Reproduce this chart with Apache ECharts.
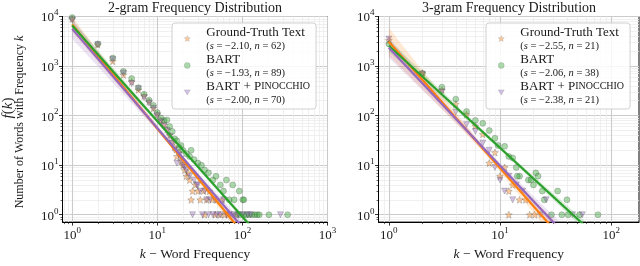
<!DOCTYPE html>
<html><head><meta charset="utf-8">
<script src="https://cdn.jsdelivr.net/npm/echarts@6/dist/echarts.min.js"></script>
<style>html,body{margin:0;padding:0;background:#fff}#c{width:640px;height:266px}</style>
</head><body><div id="c"></div>
<script>
// ---------- DATA ----------
const seriesNames = ['Ground-Truth Text', 'BART', 'BART + Pinocchio'];
const titles = ['2-gram Frequency Distribution', '3-gram Frequency Distribution'];

// 2-gram: [k, f(k)]
const gt2 = [[1,9000],[2,2700],[3,1250],[4,660],[5,480],[6,330],[7,250],[8,190],[9,140],[10,105],[11,80],[12,65],[13,52],[14,40],[15,30],[16,23],[17,15],[18,18],[19,12],[20,10],[21,8],[22,6],[23,7],[24,5],[25,2],[26,3],[28,4],[30,3],[32,2],[35,3],[36,1],[38,2],[41,3],[44,2],[48,1],[50,2],[55,1],[58,2],[62,1],[68,1],[75,1],[85,1]];
const bart2 = [[1,9500],[2,2800],[3,1450],[4,780],[5,560],[6,365],[7,270],[8,205],[9,160],[10,115],[11,90],[12,80],[13,82],[14,60],[15,48],[16,34],[17,31],[18,23],[19,25],[20,20],[22,17],[24,15],[25,20],[27,13],[30,11],[33,10],[36,8],[40,7],[45,5],[49,6],[55,4],[60,3],[65,5],[70,2],[77,4],[80,2],[92,3],[101,2],[104,2],[85,1],[95,1],[104,1],[112,1],[120,1],[130,1],[140,1],[150,1],[158,1],[205,1],[340,1]];
const pin2 = [[1,8500],[2,2700],[3,1350],[4,720],[5,443],[6,350],[7,230],[8,180],[9,140],[10,100],[11,75],[12,62],[13,50],[14,38],[15,28],[16,20],[17,11],[18,16],[19,13],[20,10],[21,9],[22,8],[24,6],[26,1],[27,5],[29,4],[30,4],[32,3],[34,1],[36,3],[38,2],[40,1],[42,2],[45,1],[48,2],[50,1],[55,1],[60,2],[65,1],[70,1],[80,1],[90,1],[100,1],[115,1],[125,1],[280,1]];

// 3-gram: [k, f(k)]
const gt3 = [[1,3300],[2,720],[3,330],[4,170],[5,105],[6,62],[7,42],[8,11],[9,18],[10,6],[11,9],[12,3],[13,4],[15,2],[12,1],[18.5,1],[20.5,1],[17,2]];
const bart3 = [[1,2800],[2,710],[3,375],[4,215],[5,121],[6,80],[7,70],[8,50],[9,35],[9.6,25],[11,24],[12,15],[13,14],[14,9],[15,6],[14.3,6],[18,5],[19,5],[20,4],[21,7],[22,6],[24,3],[25,2],[29,1],[33,3],[36,1],[40,2],[41,1],[52,1],[76,1]];
const pin3 = [[1,3500],[2,690],[3,300],[4,118],[5,66],[6,48],[7,28],[8,20],[9,9],[10,5],[11,3],[12,6],[13,2],[14,4],[16,3],[23,1],[26,2],[45,1],[55,1]];

// fitted power laws: log10 f = intercept + s * log10 k
const slopes2 = [-2.10, -1.93, -2.00];
const intercepts2 = [3.84, 3.82, 3.75];
const counts2 = [62, 89, 70];
const slopes3 = [-2.55, -2.06, -2.38];
const intercepts3 = [3.49, 3.41, 3.37];
const counts3 = [21, 38, 21];
// confidence band params (log10 units): [centre log k, half-width at centre, half-width at k=1]
const bands2 = [[1.2,0.04,0.15],[1.4,0.03,0.10],[1.3,0.04,0.20]];
const bands3 = [[0.9,0.06,0.28],[1.0,0.04,0.12],[0.9,0.05,0.20]];

const xTicks2 = [1, 10, 100, 1000];
const xTicks3 = [1, 10, 100];
const yTicks = [1, 10, 100, 1000, 10000];

// ---------- STYLE / BUILD ----------
const colors = ['#ff7f0e', '#2ca02c', '#9467bd'];
const fills = ['rgba(255,127,14,0.5)', 'rgba(44,160,44,0.5)', 'rgba(148,103,189,0.5)'];
const STAR = 'path://M50,0 L63,32 L98,35 L71,57 L80,92 L50,73 L20,92 L29,57 L2,35 L37,32 Z';
const TRI_DOWN = 'path://M0,0 L100,0 L50,87 Z';
const symbols = [STAR, 'circle', TRI_DOWN];
const SERIF = '"Liberation Serif", "DejaVu Serif", serif';
const TXT = '#1a1a1a';

const xRange = [[0.77, 1000], [0.807, 178]];
const yRange = [0.71, 10000];

function minorVals(lo, hi) {
  const out = [];
  for (let e = -1; e <= 4; e++) for (let m = 2; m <= 9; m++) {
    const v = +(m * Math.pow(10, e)).toPrecision(6);
    if (v > lo && v < hi) out.push(v);
  }
  return out;
}
const supRich = {
  b: { fontFamily: SERIF, fontSize: 13, color: TXT, lineHeight: 16, verticalAlign: 'bottom' },
  s: { fontFamily: SERIF, fontSize: 9, color: TXT, verticalAlign: 'top' }
};
function supFmt(v) { return '{b|10}{s|' + Math.round(Math.log10(v)) + '}'; }

const grids = [
  { left: 62.5, right: 312.5, top: 16.5, bottom: 37.5 },
  { left: 378.5, right: 1, top: 16.5, bottom: 37.5 }
];
grids.forEach(g => { g.show = true; g.borderColor = '#000'; g.borderWidth = 1; g.backgroundColor = 'transparent'; g.containLabel = false; });

const xAxes = [], yAxes = [];
[xTicks2, xTicks3].forEach((ticks, gi) => {
  const [lo, hi] = xRange[gi];
  xAxes.push({
    type: 'log', logBase: 10, gridIndex: gi, min: lo, max: hi, position: 'bottom',
    axisLine: { show: true, onZero: false, lineStyle: { color: '#000', width: 1 } },
    axisTick: { show: true, length: 3.5, customValues: ticks, lineStyle: { color: '#000', width: 0.8 } },
    axisLabel: { show: true, customValues: ticks, formatter: supFmt, rich: supRich, margin: 4 },
    splitLine: { show: true, lineStyle: { color: '#cbcbcb', width: 1.1 } },
    minorTick: { show: false }, minorSplitLine: { show: false },
    name: '{i|k}{r| \u2212 Word Frequency}', nameLocation: 'middle', nameGap: 22,
    nameTextStyle: { rich: {
      i: { fontFamily: SERIF, fontStyle: 'italic', fontSize: 13.5, color: TXT },
      r: { fontFamily: SERIF, fontSize: 13.5, color: TXT } } }
  });
  xAxes.push({
    type: 'log', logBase: 10, gridIndex: gi, min: lo, max: hi, position: 'bottom',
    axisLine: { show: false, onZero: false },
    axisTick: { show: true, length: 2, customValues: minorVals(lo, hi), lineStyle: { color: '#000', width: 0.6 } },
    axisLabel: { show: false },
    splitLine: { show: true, lineStyle: { color: '#ececec', width: 0.8 } },
    minorTick: { show: false }, minorSplitLine: { show: false }
  });
  yAxes.push({
    type: 'log', logBase: 10, gridIndex: gi, min: yRange[0], max: yRange[1], position: 'left',
    axisLine: { show: true, onZero: false, lineStyle: { color: '#000', width: 1 } },
    axisTick: { show: true, length: 3.5, customValues: yTicks, lineStyle: { color: '#000', width: 0.8 } },
    axisLabel: { show: true, customValues: yTicks, formatter: supFmt, rich: supRich, margin: 4 },
    splitLine: { show: true, lineStyle: { color: '#cbcbcb', width: 1.1 } },
    minorTick: { show: false }, minorSplitLine: { show: false }
  });
  yAxes.push({
    type: 'log', logBase: 10, gridIndex: gi, min: yRange[0], max: yRange[1], position: 'left',
    axisLine: { show: false, onZero: false },
    axisTick: { show: true, length: 2, customValues: minorVals(yRange[0], yRange[1]), lineStyle: { color: '#000', width: 0.6 } },
    axisLabel: { show: false },
    splitLine: { show: true, lineStyle: { color: '#ececec', width: 0.8 } },
    minorTick: { show: false }, minorSplitLine: { show: false }
  });
});

function bandRenderer(a, s, band, kEnd, color) {
  const [m, w0, wE] = band;
  return function (params, api) {
    const top = [], bot = [];
    const n = 60, L = Math.log10(kEnd);
    for (let i = 0; i <= n; i++) {
      const lx = L * i / n;
      const w = Math.sqrt(w0 * w0 + (lx - m) * (lx - m) * (wE * wE - w0 * w0) / (m * m));
      top.push(api.coord([Math.pow(10, lx), Math.pow(10, a + s * lx + w)]));
      bot.unshift(api.coord([Math.pow(10, lx), Math.pow(10, a + s * lx - w)]));
    }
    return { type: 'polygon', shape: { points: top.concat(bot) }, style: { fill: color, opacity: 0.18 } };
  };
}

const series = [];
const legendNames = [[], []];
const legendMap = {};
const panels = [
  { data: [gt2, bart2, pin2], slopes: slopes2, icpt: intercepts2, counts: counts2, bands: bands2, kEnd: 1000 },
  { data: [gt3, bart3, pin3], slopes: slopes3, icpt: intercepts3, counts: counts3, bands: bands3, kEnd: 178 }
];
panels.forEach((p, gi) => {
  const xi = gi * 2, yi = gi * 2;
  p.data.forEach((d, si) => {
    const nm = 'p' + gi + '_' + si;
    legendNames[gi].push({ name: nm, icon: symbols[si], itemStyle: { color: fills[si], borderColor: 'rgba(70,70,70,0.4)', borderWidth: 0.5 } });
    const sTxt = p.slopes[si].toFixed(2).replace('-', '\u2212');
    const title = si === 2 ? '{sp|}{t|BART + P}{sc|INOCCHIO}' : '{sp|}{t|' + seriesNames[si] + '}';
    legendMap[nm] = title + '\n{sp|}{p|(}{i|s}{p| = ' + sTxt + ', }{i|n}{p| = ' + p.counts[si] + ')}';
    series.push({
      type: 'scatter', name: nm, xAxisIndex: xi, yAxisIndex: yi, data: d,
      symbol: symbols[si], symbolSize: si === 0 ? 7 : 6,
      itemStyle: { color: fills[si], borderColor: 'rgba(70,70,70,0.55)', borderWidth: 0.6 },
      clip: true, z: 2
    });
    series.push({
      type: 'custom', xAxisIndex: xi, yAxisIndex: yi, data: [[1, 1]], clip: true, silent: true, z: 3,
      renderItem: bandRenderer(p.icpt[si], p.slopes[si], p.bands[si], p.kEnd, colors[si])
    });
    const a = p.icpt[si], s = p.slopes[si];
    series.push({
      type: 'line', xAxisIndex: xi, yAxisIndex: yi, showSymbol: false, symbol: 'none', clip: true, z: 4,
      data: [[1, Math.pow(10, a)], [p.kEnd, Math.pow(10, a + s * Math.log10(p.kEnd))]],
      lineStyle: { color: colors[si], width: 2.2 }, silent: true
    });
  });
});

const legendRich = {
  sp: { width: 11, lineHeight: 12 },
  t: { fontFamily: SERIF, fontSize: 13, lineHeight: 15, color: TXT },
  sc: { fontFamily: SERIF, fontSize: 10, lineHeight: 15, color: TXT },
  p: { fontFamily: SERIF, fontSize: 10.5, lineHeight: 12, color: TXT },
  i: { fontFamily: SERIF, fontSize: 10.5, fontStyle: 'italic', lineHeight: 12, color: TXT }
};
const legends = [172, 486].map((lx, gi) => ({
  orient: 'vertical', left: lx, top: 23,
  data: legendNames[gi],
  formatter: n => legendMap[n],
  itemWidth: 6, itemHeight: 6, itemGap: 1,
  padding: [3, 6, 3, 12],
  backgroundColor: 'rgba(255,255,255,0.85)', borderColor: '#d0d0d0', borderWidth: 1, borderRadius: 3,
  textStyle: { rich: legendRich }, selectedMode: false
}));

const graphic = [
  { type: 'text', x: 195, y: 8.5, style: { text: titles[0], font: '14px ' + SERIF, fill: TXT, align: 'center', verticalAlign: 'middle', textAlign: 'center', textVerticalAlign: 'middle' } },
  { type: 'text', x: 509, y: 8.5, style: { text: titles[1], font: '14px ' + SERIF, fill: TXT, align: 'center', verticalAlign: 'middle', textAlign: 'center', textVerticalAlign: 'middle' } },
  { type: 'text', x: 8, y: 108, rotation: Math.PI / 2, style: { text: '{i|f}{r|(}{i|k}{r|)}', rich: {
      i: { fontFamily: SERIF, fontStyle: 'italic', fontSize: 15, fill: TXT, color: TXT },
      r: { fontFamily: SERIF, fontSize: 15, fill: TXT, color: TXT } }, align: 'center', verticalAlign: 'middle', textAlign: 'center', textVerticalAlign: 'middle' } },
  { type: 'text', x: 19.5, y: 122, rotation: Math.PI / 2, style: { text: '{r|Number of Words with Frequency }{i|k}', rich: {
      i: { fontFamily: SERIF, fontStyle: 'italic', fontSize: 12, fill: TXT, color: TXT },
      r: { fontFamily: SERIF, fontSize: 12, fill: TXT, color: TXT } }, align: 'center', verticalAlign: 'middle', textAlign: 'center', textVerticalAlign: 'middle' } }
];

const chart = echarts.init(document.getElementById('c'), null, { renderer: 'canvas' });
chart.setOption({
  animation: false,
  grid: grids, xAxis: xAxes, yAxis: yAxes, series: series, legend: legends, graphic: graphic
});
</script></body></html>
